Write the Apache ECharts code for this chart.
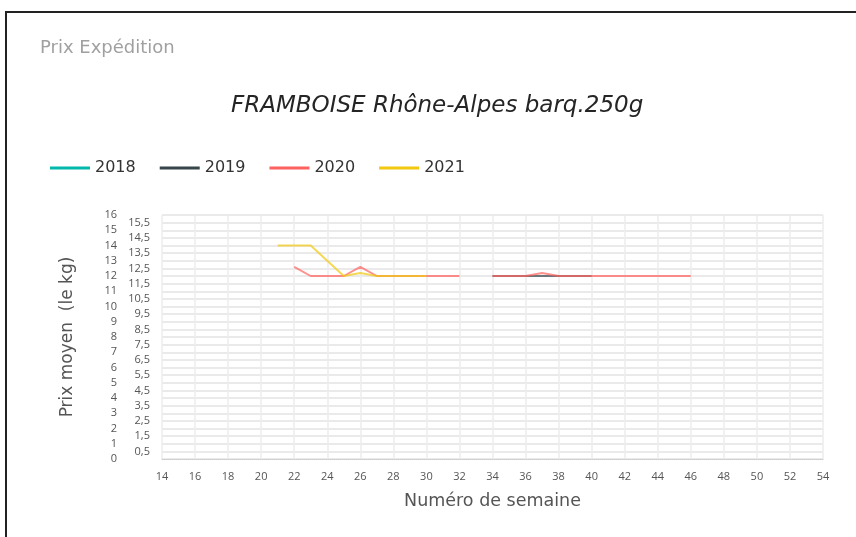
<!DOCTYPE html>
<html>
<head>
<meta charset="utf-8">
<script src="https://cdn.jsdelivr.net/npm/echarts@6/dist/echarts.min.js"></script>
<style>
  html, body { margin: 0; padding: 0; background: #fff; }
  #frame { position: absolute; left: 5px; top: 11px; width: 860px; height: 540px; border-left: 2px solid #222; border-top: 2px solid #222; box-sizing: border-box; }
  #chart { position: absolute; left: 0; top: 0; width: 856px; height: 537px; }
</style>
</head>
<body>
<div id="frame"></div>
<div id="chart"></div>
<script>
// ---- data ----
const seriesNames = ['2018', '2019', '2020', '2021'];
const weeks2018 = [];
const values2018 = [];
const weeks2019 = [34, 35, 36, 37, 38, 39, 40];
const values2019 = [12, 12, 12, 12, 12, 12, 12];
const weeks2020 = [22, 23, 24, 25, 26, 27, 28, 29, 30, 31, 32, 33, 34, 35, 36, 37, 38, 39, 40, 41, 42, 43, 44, 45, 46];
const values2020 = [12.6, 12, 12, 12, 12.6, 12, 12, 12, 12, 12, 12, null, 12, 12, 12, 12.2, 12, 12, 12, 12, 12, 12, 12, 12, 12];
const weeks2021 = [21, 22, 23, 24, 25, 26, 27, 28, 29, 30];
const values2021 = [14, 14, 14, 13, 12, 12.2, 12, 12, 12, 12];
const colors = ['#01B8AA', '#374649', '#FD625E', '#F2C80F'];

function pairs(w, v) { return w.map((x, i) => [x, v[i]]); }
const allData = [pairs(weeks2018, values2018), pairs(weeks2019, values2019), pairs(weeks2020, values2020), pairs(weeks2021, values2021)];

const chart = echarts.init(document.getElementById('chart'), null, { renderer: 'canvas' });
const fontFam = '"DejaVu Sans", "Open Sans", sans-serif';
const tickFam = '"Open Sans", "Noto Sans", sans-serif';
chart.setOption({
  animation: false,
  color: colors,
  title: [
    { text: 'Prix Expédition', left: 35, top: 34, textStyle: { fontFamily: fontFam, fontSize: 18, fontWeight: 'normal', color: '#a0a0a0' } },
    { text: 'FRAMBOISE Rhône-Alpes barq.250g', left: 226, top: 90, textStyle: { fontFamily: fontFam, fontSize: 23, fontWeight: 'normal', fontStyle: 'italic', color: '#252525' } }
  ],
  legend: {
    left: 45, top: 155, icon: 'rect', itemWidth: 40, itemHeight: 3, itemGap: 24,
    textStyle: { fontFamily: fontFam, fontSize: 16, color: '#333' },
    data: seriesNames
  },
  grid: { left: 162, right: 33, top: 215, bottom: 78 },
  xAxis: {
    type: 'value', min: 14, max: 54, interval: 2,
    name: 'Numéro de semaine', nameLocation: 'middle', nameGap: 33,
    nameTextStyle: { fontFamily: fontFam, fontSize: 17.5, color: '#555' },
    axisLine: { show: true, lineStyle: { color: '#ccc', type: 'dotted', width: 1 } },
    axisTick: { show: false },
    axisLabel: { fontFamily: tickFam, fontSize: 11, color: '#555', margin: 12 },
    splitLine: { show: true, lineStyle: { color: '#ececec', width: 1.5 } }
  },
  yAxis: [
    {
      type: 'value', min: 0, max: 16, interval: 0.5, position: 'left',
      axisLine: { show: false }, axisTick: { show: false },
      axisLabel: { fontFamily: tickFam, fontSize: 11, color: '#555', margin: 12,
        formatter: v => (Math.abs(v % 1) > 0.01 ? String(v).replace('.', ',') : '') },
      splitLine: { show: true, lineStyle: { color: '#e3e3e3', width: 1.5 } }
    },
    {
      type: 'value', min: 0, max: 16, interval: 1, position: 'left',
      name: 'Prix moyen  (le kg)', nameLocation: 'middle', nameGap: 86, nameRotate: 90,
      nameTextStyle: { fontFamily: fontFam, fontSize: 17, color: '#555' },
      axisLine: { show: false }, axisTick: { show: false },
      axisLabel: { fontFamily: tickFam, fontSize: 11, color: '#555', margin: 45 },
      splitLine: { show: false }
    }
  ],
  series: seriesNames.map((n, i) => ({
    name: n, type: 'line', yAxisIndex: 0, data: allData[i],
    showSymbol: false, symbol: 'none', connectNulls: false,
    lineStyle: { width: 2, opacity: 0.7 }, itemStyle: { color: colors[i] }
  }))
});
</script>
</body>
</html>
